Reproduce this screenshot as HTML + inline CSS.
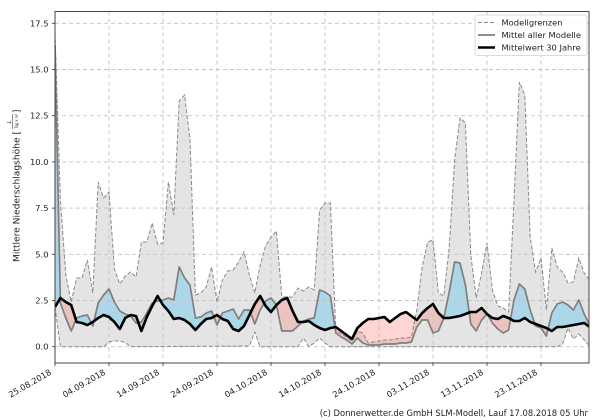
<!DOCTYPE html>
<html><head><meta charset="utf-8"><style>
html,body{margin:0;padding:0;background:#fff;}
svg{display:block;font-family:"DejaVu Sans","Liberation Sans",sans-serif;}
</style></head><body>
<svg width="600" height="420" viewBox="0 0 600 420" xmlns="http://www.w3.org/2000/svg">
<defs>
<clipPath id="plot"><rect x="55" y="11.5" width="534" height="351.5"/></clipPath>
<clipPath id="above"><polygon points="55,0 55,307 60.4,298 65.8,302 71.2,305 76.6,322 82,323 87.4,325 92.8,322 98.2,318 103.6,315 109,317 114.4,322 119.8,329 125.2,318 130.6,315 136,316 141.4,331 146.8,317 152.2,306 157.6,296 163,305 168.4,311 173.8,319 179.2,318 184.6,320 190,324 195.4,330 200.8,324 206.2,319 211.6,318 217,315 222.4,319 227.8,321 233.2,329 238.6,331 244,326 249.4,315 254.8,304 260.2,296 265.6,306 271,312 276.4,305 281.8,300 287.2,298 292.6,311 298,322 303.4,322 308.8,321 314.2,325 319.6,328 325,330 330.4,328 335.8,327 341.2,331 346.6,335 352,339 357.4,328 362.8,323 368.2,319 373.6,319 379,318 384.4,317 389.8,322 395.2,318 400.6,314 406,312 411.4,316 416.8,320 422.2,313 427.6,308 433,304 438.4,313 443.8,318 449.2,318 454.6,317 460,316 465.4,314 470.8,312 476.2,312 481.6,308 487,314 492.4,318 497.8,319 503.2,316 508.6,318 514,321 519.4,321 524.8,318 530.2,322 535.6,324 541,326 546.4,328 551.8,331 557.2,327 562.6,327 568,326 573.4,325 578.8,324 584.2,323 589.6,327 589.6,0"/></clipPath>
<clipPath id="below"><polygon points="55,420 55,307 60.4,298 65.8,302 71.2,305 76.6,322 82,323 87.4,325 92.8,322 98.2,318 103.6,315 109,317 114.4,322 119.8,329 125.2,318 130.6,315 136,316 141.4,331 146.8,317 152.2,306 157.6,296 163,305 168.4,311 173.8,319 179.2,318 184.6,320 190,324 195.4,330 200.8,324 206.2,319 211.6,318 217,315 222.4,319 227.8,321 233.2,329 238.6,331 244,326 249.4,315 254.8,304 260.2,296 265.6,306 271,312 276.4,305 281.8,300 287.2,298 292.6,311 298,322 303.4,322 308.8,321 314.2,325 319.6,328 325,330 330.4,328 335.8,327 341.2,331 346.6,335 352,339 357.4,328 362.8,323 368.2,319 373.6,319 379,318 384.4,317 389.8,322 395.2,318 400.6,314 406,312 411.4,316 416.8,320 422.2,313 427.6,308 433,304 438.4,313 443.8,318 449.2,318 454.6,317 460,316 465.4,314 470.8,312 476.2,312 481.6,308 487,314 492.4,318 497.8,319 503.2,316 508.6,318 514,321 519.4,321 524.8,318 530.2,322 535.6,324 541,326 546.4,328 551.8,331 557.2,327 562.6,327 568,326 573.4,325 578.8,324 584.2,323 589.6,327 589.6,420"/></clipPath>
<polygon id="between" points="55,45 60.4,303 65.8,318 71.2,331 76.6,318 82,316 87.4,315 92.8,326 98.2,303 103.6,295 109,289 114.4,302 119.8,311 125.2,314 130.6,316 136,323 141.4,322 146.8,313 152.2,303 157.6,301 163,300 168.4,298 173.8,300 179.2,267 184.6,278 190,285 195.4,318 200.8,317 206.2,313 211.6,311 217,325 222.4,313 227.8,311 233.2,309 238.6,319 244,310 249.4,310 254.8,324 260.2,310 265.6,301 271,298 276.4,305 281.8,331 287.2,331 292.6,331 298,326 303.4,321 308.8,319 314.2,318 319.6,290 325,292 330.4,296 335.8,333 341.2,337 346.6,340 352,344 357.4,338 362.8,343 368.2,345 373.6,345 379,345 384.4,344 389.8,344 395.2,344 400.6,343 406,343 411.4,342 416.8,327 422.2,320 427.6,320 433,333 438.4,331 443.8,318 449.2,292 454.6,262 460,263 465.4,285 470.8,324 476.2,331 481.6,320 487,314 492.4,323 497.8,329 503.2,333 508.6,330 514,300 519.4,284 524.8,289 530.2,310 535.6,326 541,328 546.4,336 551.8,313 557.2,304 562.6,302 568,305 573.4,310 578.8,300 584.2,314 589.6,325 589.6,327 584.2,323 578.8,324 573.4,325 568,326 562.6,327 557.2,327 551.8,331 546.4,328 541,326 535.6,324 530.2,322 524.8,318 519.4,321 514,321 508.6,318 503.2,316 497.8,319 492.4,318 487,314 481.6,308 476.2,312 470.8,312 465.4,314 460,316 454.6,317 449.2,318 443.8,318 438.4,313 433,304 427.6,308 422.2,313 416.8,320 411.4,316 406,312 400.6,314 395.2,318 389.8,322 384.4,317 379,318 373.6,319 368.2,319 362.8,323 357.4,328 352,339 346.6,335 341.2,331 335.8,327 330.4,328 325,330 319.6,328 314.2,325 308.8,321 303.4,322 298,322 292.6,311 287.2,298 281.8,300 276.4,305 271,312 265.6,306 260.2,296 254.8,304 249.4,315 244,326 238.6,331 233.2,329 227.8,321 222.4,319 217,315 211.6,318 206.2,319 200.8,324 195.4,330 190,324 184.6,320 179.2,318 173.8,319 168.4,311 163,305 157.6,296 152.2,306 146.8,317 141.4,331 136,316 130.6,315 125.2,318 119.8,329 114.4,322 109,317 103.6,315 98.2,318 92.8,322 87.4,325 82,323 76.6,322 71.2,305 65.8,302 60.4,298 55,307"/>
</defs>

<g clip-path="url(#plot)">
<!-- min-max band -->
<polygon fill="#e4e4e4" points="55,33 60.4,200 65.8,275 71.2,302 76.6,278 82,278 87.4,260 92.8,293 98.2,182 103.6,198 109,192 114.4,269 119.8,284 125.2,276 130.6,272 136,277 141.4,242 146.8,242 152.2,223 157.6,244 163,243 168.4,182 173.8,215 179.2,101 184.6,95 190,140 195.4,295 200.8,293 206.2,287 211.6,267 217,302 222.4,280 227.8,271 233.2,270 238.6,262 244,252 249.4,275 254.8,293 260.2,265 265.6,246 271,237 276.4,231 281.8,297 287.2,297 292.6,297 298,288 303.4,291 308.8,287 314.2,290 319.6,210 325,203 330.4,203 335.8,330 341.2,334 346.6,337 352,341 357.4,331 362.8,333 368.2,343 373.6,342 379,341 384.4,340 389.8,340 395.2,339 400.6,338 406,338 411.4,337 416.8,310 422.2,267 427.6,242 433,240 438.4,293 443.8,296 449.2,248 454.6,160 460,118 465.4,123 470.8,255 476.2,298 481.6,273 487,243 492.4,290 497.8,306 503.2,308 508.6,312 514,200 519.4,82 524.8,95 530.2,237 535.6,272 541,258 546.4,310 551.8,248 557.2,267 562.6,272 568,283 573.4,282 578.8,258 584.2,273 589.6,280 589.6,346 584.2,340 578.8,334 573.4,339 568,328 562.6,344 557.2,346.7 330.4,346.7 325,343 319.6,338 314.2,343 308.8,346.7 303.4,338 298,346.7 260.2,346.7 254.8,332 249.4,346 130.6,346.7 125.2,342.5 119.8,341 114.4,341 109,342 103.6,346.7 60.4,346.7 55,307"/>

<!-- blue (model mean above 30yr) -->
<g clip-path="url(#above)">
<use href="#between" fill="#87ceeb" fill-opacity="0.6"/>
</g>
<!-- red (model mean below 30yr) -->
<g clip-path="url(#below)">
<use href="#between" fill="#fa8072" fill-opacity="0.33"/>
</g>

<!-- grid -->
<g stroke="#c4c4c4" stroke-width="0.9" stroke-dasharray="4,3" fill="none">
<line x1="55" y1="11.5" x2="55" y2="363"/>
<line x1="109" y1="11.5" x2="109" y2="363"/>
<line x1="163" y1="11.5" x2="163" y2="363"/>
<line x1="217" y1="11.5" x2="217" y2="363"/>
<line x1="271" y1="11.5" x2="271" y2="363"/>
<line x1="325" y1="11.5" x2="325" y2="363"/>
<line x1="379" y1="11.5" x2="379" y2="363"/>
<line x1="433" y1="11.5" x2="433" y2="363"/>
<line x1="487" y1="11.5" x2="487" y2="363"/>
<line x1="541" y1="11.5" x2="541" y2="363"/>
<line x1="55" y1="346.7" x2="589" y2="346.7"/>
<line x1="55" y1="300.5" x2="589" y2="300.5"/>
<line x1="55" y1="254.3" x2="589" y2="254.3"/>
<line x1="55" y1="208.1" x2="589" y2="208.1"/>
<line x1="55" y1="161.9" x2="589" y2="161.9"/>
<line x1="55" y1="115.7" x2="589" y2="115.7"/>
<line x1="55" y1="69.5" x2="589" y2="69.5"/>
<line x1="55" y1="23.3" x2="589" y2="23.3"/>
</g>

<!-- bounds -->
<g stroke="#8a8a8a" stroke-width="1" stroke-dasharray="4,2" fill="none">
<polyline points="55,33 60.4,200 65.8,275 71.2,302 76.6,278 82,278 87.4,260 92.8,293 98.2,182 103.6,198 109,192 114.4,269 119.8,284 125.2,276 130.6,272 136,277 141.4,242 146.8,242 152.2,223 157.6,244 163,243 168.4,182 173.8,215 179.2,101 184.6,95 190,140 195.4,295 200.8,293 206.2,287 211.6,267 217,302 222.4,280 227.8,271 233.2,270 238.6,262 244,252 249.4,275 254.8,293 260.2,265 265.6,246 271,237 276.4,231 281.8,297 287.2,297 292.6,297 298,288 303.4,291 308.8,287 314.2,290 319.6,210 325,203 330.4,203 335.8,330 341.2,334 346.6,337 352,341 357.4,331 362.8,333 368.2,343 373.6,342 379,341 384.4,340 389.8,340 395.2,339 400.6,338 406,338 411.4,337 416.8,310 422.2,267 427.6,242 433,240 438.4,293 443.8,296 449.2,248 454.6,160 460,118 465.4,123 470.8,255 476.2,298 481.6,273 487,243 492.4,290 497.8,306 503.2,308 508.6,312 514,200 519.4,82 524.8,95 530.2,237 535.6,272 541,258 546.4,310 551.8,248 557.2,267 562.6,272 568,283 573.4,282 578.8,258 584.2,273 589.6,280"/>
<polyline points="55,307 60.4,346.7 103.6,346.7 109,342 114.4,341 119.8,341 125.2,342.5 130.6,346.7 249.4,346 254.8,332 260.2,346.7 298,346.7 303.4,338 308.8,346.7 314.2,343 319.6,338 325,343 330.4,346.7 557.2,346.7 562.6,344 568,328 573.4,339 578.8,334 584.2,340 589.6,346"/>
</g>

<!-- model mean -->
<polyline fill="none" stroke="#7f7f7f" stroke-width="1.7" stroke-linejoin="round" points="55,45 60.4,303 65.8,318 71.2,331 76.6,318 82,316 87.4,315 92.8,326 98.2,303 103.6,295 109,289 114.4,302 119.8,311 125.2,314 130.6,316 136,323 141.4,322 146.8,313 152.2,303 157.6,301 163,300 168.4,298 173.8,300 179.2,267 184.6,278 190,285 195.4,318 200.8,317 206.2,313 211.6,311 217,325 222.4,313 227.8,311 233.2,309 238.6,319 244,310 249.4,310 254.8,324 260.2,310 265.6,301 271,298 276.4,305 281.8,331 287.2,331 292.6,331 298,326 303.4,321 308.8,319 314.2,318 319.6,290 325,292 330.4,296 335.8,333 341.2,337 346.6,340 352,344 357.4,338 362.8,343 368.2,345 373.6,345 379,345 384.4,344 389.8,344 395.2,344 400.6,343 406,343 411.4,342 416.8,327 422.2,320 427.6,320 433,333 438.4,331 443.8,318 449.2,292 454.6,262 460,263 465.4,285 470.8,324 476.2,331 481.6,320 487,314 492.4,323 497.8,329 503.2,333 508.6,330 514,300 519.4,284 524.8,289 530.2,310 535.6,326 541,328 546.4,336 551.8,313 557.2,304 562.6,302 568,305 573.4,310 578.8,300 584.2,314 589.6,325"/>

<!-- 30 year mean -->
<polyline fill="none" stroke="#000" stroke-width="2.6" stroke-linejoin="round" points="55,307 60.4,298 65.8,302 71.2,305 76.6,322 82,323 87.4,325 92.8,322 98.2,318 103.6,315 109,317 114.4,322 119.8,329 125.2,318 130.6,315 136,316 141.4,331 146.8,317 152.2,306 157.6,296 163,305 168.4,311 173.8,319 179.2,318 184.6,320 190,324 195.4,330 200.8,324 206.2,319 211.6,318 217,315 222.4,319 227.8,321 233.2,329 238.6,331 244,326 249.4,315 254.8,304 260.2,296 265.6,306 271,312 276.4,305 281.8,300 287.2,298 292.6,311 298,322 303.4,322 308.8,321 314.2,325 319.6,328 325,330 330.4,328 335.8,327 341.2,331 346.6,335 352,339 357.4,328 362.8,323 368.2,319 373.6,319 379,318 384.4,317 389.8,322 395.2,318 400.6,314 406,312 411.4,316 416.8,320 422.2,313 427.6,308 433,304 438.4,313 443.8,318 449.2,318 454.6,317 460,316 465.4,314 470.8,312 476.2,312 481.6,308 487,314 492.4,318 497.8,319 503.2,316 508.6,318 514,321 519.4,321 524.8,318 530.2,322 535.6,324 541,326 546.4,328 551.8,331 557.2,327 562.6,327 568,326 573.4,325 578.8,324 584.2,323 589.6,327"/>
</g>

<!-- frame -->
<rect x="55" y="11.5" width="534" height="351.5" fill="none" stroke="#333" stroke-width="0.9"/>

<!-- ticks -->
<g stroke="#333" stroke-width="0.8">
<line x1="55" y1="363" x2="55" y2="366"/><line x1="109" y1="363" x2="109" y2="366"/><line x1="163" y1="363" x2="163" y2="366"/><line x1="217" y1="363" x2="217" y2="366"/><line x1="271" y1="363" x2="271" y2="366"/><line x1="325" y1="363" x2="325" y2="366"/><line x1="379" y1="363" x2="379" y2="366"/><line x1="433" y1="363" x2="433" y2="366"/><line x1="487" y1="363" x2="487" y2="366"/><line x1="541" y1="363" x2="541" y2="366"/>
<line x1="52" y1="346.7" x2="55" y2="346.7"/><line x1="52" y1="300.5" x2="55" y2="300.5"/><line x1="52" y1="254.3" x2="55" y2="254.3"/><line x1="52" y1="208.1" x2="55" y2="208.1"/><line x1="52" y1="161.9" x2="55" y2="161.9"/><line x1="52" y1="115.7" x2="55" y2="115.7"/><line x1="52" y1="69.5" x2="55" y2="69.5"/><line x1="52" y1="23.3" x2="55" y2="23.3"/>
</g>

<!-- y tick labels -->
<g font-size="8.33" fill="#222" text-anchor="end">
<text x="48.5" y="349.7">0.0</text>
<text x="48.5" y="303.5">2.5</text>
<text x="48.5" y="257.3">5.0</text>
<text x="48.5" y="211.1">7.5</text>
<text x="48.5" y="164.9">10.0</text>
<text x="48.5" y="118.7">12.5</text>
<text x="48.5" y="72.5">15.0</text>
<text x="48.5" y="26.3">17.5</text>
</g>

<!-- x tick labels -->
<g font-size="8.33" fill="#222" text-anchor="end">
<text transform="translate(52,374) rotate(-30)">25.08.2018</text>
<text transform="translate(106,374) rotate(-30)">04.09.2018</text>
<text transform="translate(160,374) rotate(-30)">14.09.2018</text>
<text transform="translate(214,374) rotate(-30)">24.09.2018</text>
<text transform="translate(268,374) rotate(-30)">04.10.2018</text>
<text transform="translate(322,374) rotate(-30)">14.10.2018</text>
<text transform="translate(376,374) rotate(-30)">24.10.2018</text>
<text transform="translate(430,374) rotate(-30)">03.11.2018</text>
<text transform="translate(484,374) rotate(-30)">13.11.2018</text>
<text transform="translate(538,374) rotate(-30)">23.11.2018</text>
</g>

<!-- y axis label -->
<g transform="translate(19.5,262) rotate(-90)" fill="#222">
<text x="0" y="0" font-size="8.6" textLength="131" lengthAdjust="spacingAndGlyphs">Mittlere Niederschlagshöhe [</text>
<text x="140" y="-8.5" font-size="5" font-style="italic" text-anchor="middle">L</text>
<line x1="133" y1="-6.8" x2="148" y2="-6.8" stroke="#222" stroke-width="0.5"/>
<text x="133.5" y="-1.6" font-size="4.3" font-style="italic" textLength="14.5" lengthAdjust="spacingAndGlyphs">Tag × m²</text>
<text x="149" y="0" font-size="8.6">]</text>
</g>

<!-- legend -->
<rect x="475" y="15" width="112" height="40.5" rx="2.5" fill="#fff" fill-opacity="0.85" stroke="#cfcfcf" stroke-width="0.8"/>
<line x1="478" y1="22.5" x2="495" y2="22.5" stroke="#8a8a8a" stroke-width="1" stroke-dasharray="4,2"/>
<line x1="478" y1="35" x2="495" y2="35" stroke="#7f7f7f" stroke-width="1.7"/>
<line x1="478" y1="47.5" x2="495" y2="47.5" stroke="#000" stroke-width="2.6"/>
<g font-size="8.33" fill="#222">
<text x="501.5" y="25.5">Modellgrenzen</text>
<text x="501.5" y="38">Mittel aller Modelle</text>
<text x="501.5" y="50.5">Mittelwert 30 Jahre</text>
</g>

<!-- credit -->
<text x="588" y="416" font-size="8.4" fill="#222" text-anchor="end">(c) Donnerwetter.de GmbH SLM-Modell, Lauf 17.08.2018 05 Uhr</text>
</svg>
</body></html>
